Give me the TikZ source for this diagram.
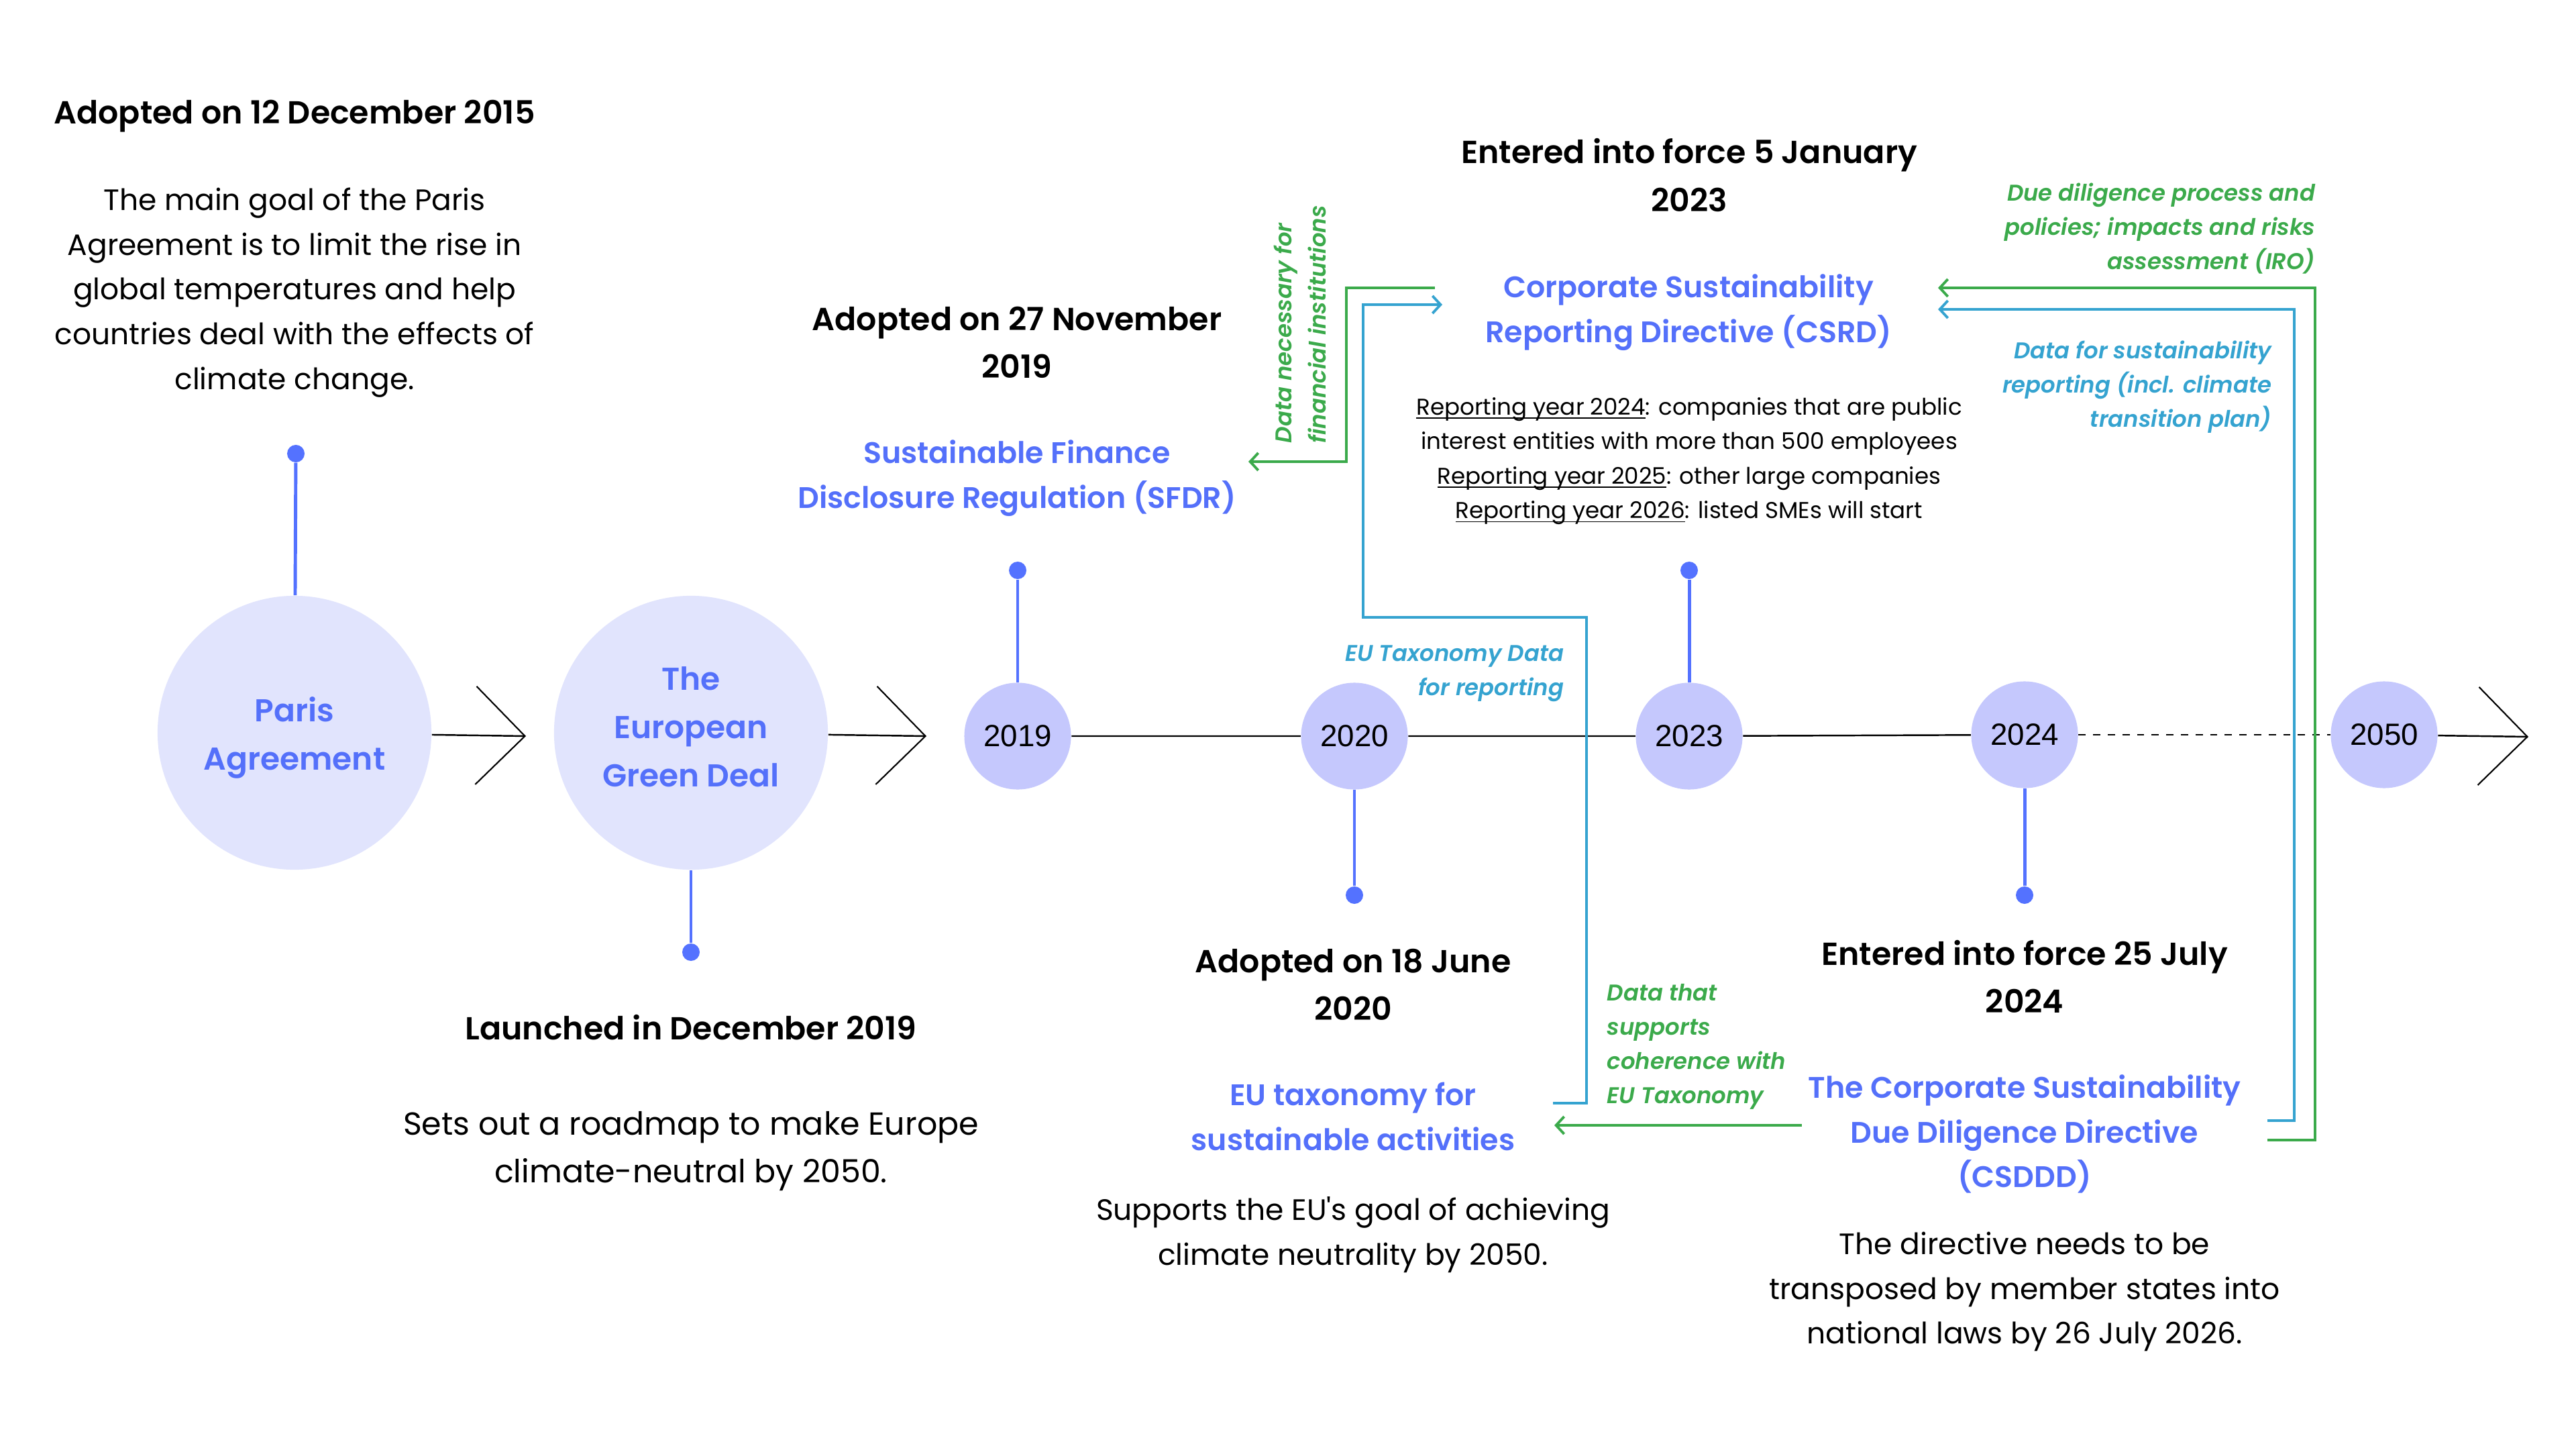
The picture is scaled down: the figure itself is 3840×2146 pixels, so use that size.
\documentclass[tikz,border=0pt]{standalone}
\usepackage{fontspec}
\setmainfont{Poppins}[BoldFont={Poppins SemiBold},BoldItalicFont={Poppins SemiBold Italic}]
\newfontfamily\yearfont{Liberation Sans}
\usetikzlibrary{arrows.meta, positioning, calc}
\definecolor{titleblue}{RGB}{84,112,250}
\definecolor{stemblue}{RGB}{84,114,255}
\definecolor{paleblue}{RGB}{225,228,253}
\definecolor{yearblue}{RGB}{197,200,253}
\definecolor{linkgreen}{RGB}{59,170,75}
\definecolor{linkteal}{RGB}{53,163,208}
\newcommand{\yearul}[1]{\setbox0\hbox{#1}\rlap{\rule[-1.6pt]{\wd0}{0.45pt}}\box0}

\begin{document}
\begin{tikzpicture}[x=0.01cm, y=-0.01cm,
  bigdisc/.style={circle, fill=paleblue, minimum size=4.08cm, inner sep=0pt, align=center, text=titleblue, font=\fontsize{13.4}{20.5}\selectfont\bfseries},
  yeardisc/.style={circle, fill=yearblue, minimum size=1.59cm, inner sep=0pt, font=\yearfont\fontsize{13}{15}\selectfont},
  dot/.style={circle, fill=stemblue, minimum size=0.26cm, inner sep=0pt},
  stem/.style={draw=stemblue, line width=1.4pt},
  axisline/.style={draw=black, line width=0.7pt},
  chev/.style={axisline, -{Straight Barb[length=7.3mm, width=14.6mm, line width=0.6pt]}},
  headtext/.style={align=center, font=\fontsize{13.5}{20.2}\selectfont\bfseries},
  bodytext/.style={align=center, font=\fontsize{12.5}{19}\selectfont},
  titletext/.style={align=center, text=titleblue, font=\fontsize{12.6}{19}\selectfont\bfseries},
  smalltext/.style={align=center, font=\fontsize{9.7}{14.65}\selectfont},
  notetext/.style={text=#1, inner sep=0pt, font=\fontsize{9.65}{14.5}\selectfont\bfseries\itshape},
  linkline/.style={draw=#1, line width=1.1pt, -{Straight Barb[length=1.2mm, width=2.6mm]}},
]
  \fill[white] (0,0) rectangle (3840,2146);
  \useasboundingbox (0,0) rectangle (3840,2146);

  % timeline
  \node[bigdisc] (paris) at (439,1092) {\rule{0pt}{15pt}Paris\\Agreement};
  \node[bigdisc] (greendeal) at (1030,1092) {The\\European\\Green Deal\rule[-5pt]{0pt}{0pt}};
  \node[yeardisc] (y2019) at (1517,1097) {2019};
  \node[yeardisc] (y2020) at (2019,1097) {2020};
  \node[yeardisc] (y2023) at (2518,1097) {2023};
  \node[yeardisc] (y2024) at (3018,1095) {2024};
  \node[yeardisc] (y2050) at (3554,1095) {2050};
  \coordinate (tipA) at (784,1097);
  \coordinate (tipB) at (1381,1097);
  \coordinate (tipC) at (3769,1098);

  \draw[chev] (paris) -- (tipA);
  \draw[chev] (greendeal) -- (tipB);
  \draw[axisline] (y2019) -- (y2020) -- (y2023) -- (y2024);
  \draw[axisline, dash pattern=on 3.1pt off 3.1pt] (y2024) -- (y2050);
  \draw[chev] (y2050) -- (tipC);

  % stems
  \node[dot] (parisdot) at (441,676) {};
  \node[dot] (gddot) at (1030,1419) {};
  \node[dot] (dot2019) at (1517,850) {};
  \node[dot] (dot2020) at (2019,1334) {};
  \node[dot] (dot2023) at (2518,850) {};
  \node[dot] (dot2024) at (3018,1334) {};
  \draw[stem] (parisdot) -- (paris);
  \draw[stem] (gddot) -- (greendeal);
  \draw[stem] (dot2019) -- (y2019);
  \draw[stem] (dot2020) -- (y2020);
  \draw[stem] (dot2023) -- (y2023);
  \draw[stem] (dot2024) -- (y2024);

  % texts above and below
  \node[headtext] (parishead) at (439,173) {Adopted on 12 December 2015};
  \node[bodytext] (parisbody) at (439,436) {The main goal of the Paris\\Agreement is to limit the rise in\\global temperatures and help\\countries deal with the effects of\\climate change.};

  \node[headtext] (sfdrhead) at (1516,510) {Adopted on 27 November\\2019};
  \node[titletext] (sfdr) at (1516,713) {Sustainable Finance\\Disclosure Regulation (SFDR)};

  \node[headtext] (csrdhead) at (2518,261) {Entered into force 5 January\\2023};
  \node[titletext] (csrd) at (2517,466) {Corporate Sustainability\\Reporting Directive (CSRD)};
  \node[smalltext] (csrdbody) at (2518,687) {\yearul{Reporting year 2024}: companies that are public\\interest entities with more than 500 employees\\\yearul{Reporting year 2025}: other large companies\\\yearul{Reporting year 2026}: listed SMEs will start};

  \node[headtext] (gdhead) at (1030,1531) {Launched in December 2019};
  \node[bodytext, font=\fontsize{13.5}{20.2}\selectfont] (gdbody) at (1030,1716) {Sets out a roadmap to make Europe\\climate-neutral by 2050.};

  \node[headtext] (taxhead) at (2017,1467) {Adopted on 18 June\\2020};
  \node[titletext] (tax) at (2017,1664) {EU taxonomy for\\sustainable activities};
  \node[bodytext] (taxbody) at (2017,1840) {Supports the EU\textquotesingle s goal of achieving\\climate neutrality by 2050.};

  \node[headtext] (csdddhead) at (3018,1455) {Entered into force 25 July\\2024};
  \node[titletext] (csddd) at (3018,1690) {The Corporate Sustainability\\Due Diligence Directive\\(CSDDD)};
  \node[bodytext] (csdddbody) at (3018,1925) {The directive needs to be\\transposed by member states into\\national laws by 26 July 2026.};

  % link notes
  \node[notetext=linkgreen, rotate=90, anchor=west, align=left] (finnote) at (1938,661) {Data necessary for\\financial institutions};
  \node[notetext=linkteal, anchor=east, align=right] (taxnote) at (2332,1004) {EU Taxonomy Data\\for reporting};
  \node[notetext=linkgreen, anchor=west, align=left] (cohnote) at (2395,1560) {Data that\\supports\\coherence with\\EU Taxonomy};
  \node[notetext=linkgreen, anchor=east, align=right] (ironote) at (3452,341) {Due diligence process and\\policies; impacts and risks\\assessment (IRO)};
  \node[notetext=linkteal, anchor=east, align=right] (susnote) at (3387,577) {Data for sustainability\\reporting (incl. climate\\transition plan)};

  % links between the acts
  \coordinate (csrdinA) at (2139,429);
  \coordinate (sfdrin) at (1861,688);
  \draw[linkline=linkgreen] (csrdinA) -- ++(-132,0) |- (sfdrin);
  \coordinate (taxout) at (2315,1644);
  \coordinate (csrdinB) at (2150,454);
  \draw[linkline=linkteal] (taxout) -- ++(50,0) |- (2032,920) |- (csrdinB);
  \coordinate (csdddoutA) at (2686,1677);
  \coordinate (taxin) at (2317,1677);
  \draw[linkline=linkgreen] (csdddoutA) -- (taxin);
  \coordinate (csdddoutB) at (3380,1699);
  \coordinate (csrdinC) at (2889,429);
  \draw[linkline=linkgreen] (csdddoutB) -- ++(71,0) |- (csrdinC);
  \coordinate (csdddoutC) at (3380,1670);
  \coordinate (csrdinD) at (2889,461);
  \draw[linkline=linkteal] (csdddoutC) -- ++(40,0) |- (csrdinD);
\end{tikzpicture}
\end{document}
